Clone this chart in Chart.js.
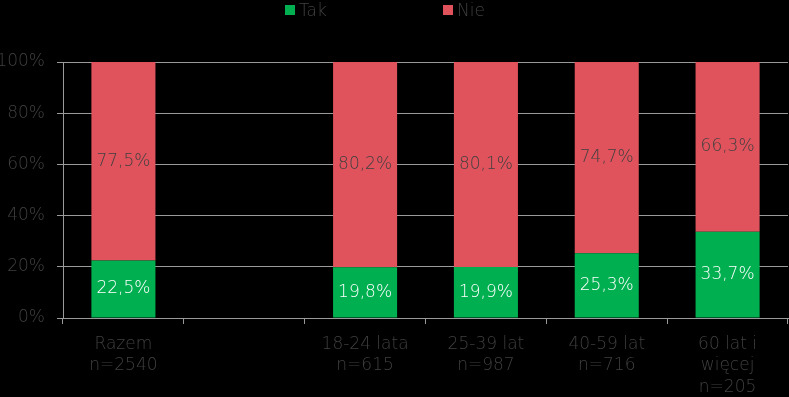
<!DOCTYPE html>
<html>
<head>
<meta charset="utf-8">
<script src="https://cdn.jsdelivr.net/npm/chart.js@4.4.0/dist/chart.umd.min.js"></script>
<style>
  html, body { margin: 0; padding: 0; background: #000; }
  #wrap { position: relative; width: 789px; height: 397px; }
  .legend { position: absolute; top: 0; font: 200 17px "DejaVu Sans", sans-serif; color: #404040; display: flex; align-items: center; height: 20px; }
  .legend span.box { display: inline-block; width: 10px; height: 10px; margin-right: 4px; }
</style>
</head>
<body>
<div id="wrap">
  <canvas id="chart" width="789" height="397"></canvas>
  <div class="legend" style="left:285px"><span class="box" style="background:#00B050"></span>Tak</div>
  <div class="legend" style="left:443px"><span class="box" style="background:#E0525C"></span>Nie</div>
</div>
<script>
const categories = [
    ['Razem', 'n=2540'],
    '',
    ['18-24 lata', 'n=615'],
    ['25-39 lat', 'n=987'],
    ['40-59 lat', 'n=716'],
    ['60 lat i', 'więcej', 'n=205']
]
const takValues = [22.5, null, 19.8, 19.9, 25.3, 33.7]
const nieValues = [77.5, null, 80.2, 80.1, 74.7, 66.3]
const yTicks = [0, 20, 40, 60, 80, 100]

const textColor = '#404040'
const gridColor = '#9a9a9a'
const fontFamily = '"DejaVu Sans", sans-serif'

// value labels centred in each segment
const segmentLabels = {
    id: 'segmentLabels',
    afterDatasetsDraw(chart) {
        const ctx = chart.ctx
        ctx.save()
        ctx.textAlign = 'center'
        ctx.textBaseline = 'middle'
        chart.data.datasets.forEach((ds, i) => {
            ctx.font = `${ds.labelWeight} 17px ${fontFamily}`
            chart.getDatasetMeta(i).data.forEach((bar, j) => {
                const v = ds.data[j]
                if (v == null) return
                const p = bar.getProps(['x', 'y', 'base'], true)
                ctx.fillStyle = ds.labelColor
                ctx.fillText(v.toFixed(1).replace('.', ',') + '%', p.x, (p.y + p.base) / 2)
            })
        })
        ctx.restore()
    }
}

const config = {
    type: 'bar',
    data: {
        labels: categories,
        datasets: [
            { label: 'Tak', data: takValues, backgroundColor: '#00B050', labelColor: '#ffffff', labelWeight: '200' },
            { label: 'Nie', data: nieValues, backgroundColor: '#E0525C', labelColor: textColor, labelWeight: '200' }
        ]
    },
    options: {
        responsive: false,
        animation: false,
        layout: { padding: { top: 62, right: 1, left: 0, bottom: 0 } },
        datasets: { bar: { categoryPercentage: 1, barPercentage: 0.53 } },
        plugins: { legend: { display: false }, tooltip: { enabled: false } },
        scales: {
            x: {
                stacked: true,
                grid: { drawOnChartArea: false, color: gridColor, tickLength: 6 },
                border: { color: gridColor },
                ticks: { color: textColor, font: { family: fontFamily, size: 17, weight: '200', lineHeight: 1.25 }, maxRotation: 0, autoSkip: false, padding: 10 },
                afterFit: s => { s.height = 79 }
            },
            y: {
                stacked: true,
                min: 0,
                max: 100,
                afterBuildTicks: s => { s.ticks = yTicks.map(v => ({ value: v })) },
                grid: { color: gridColor, tickLength: 6 },
                border: { color: gridColor },
                ticks: { color: textColor, font: { family: fontFamily, size: 17, weight: '200' }, padding: 12, callback: v => v + '%' },
                afterFit: s => { s.width = 63 }
            }
        }
    },
    plugins: [segmentLabels]
}

new Chart(document.getElementById('chart'), config)
</script>
</body>
</html>
